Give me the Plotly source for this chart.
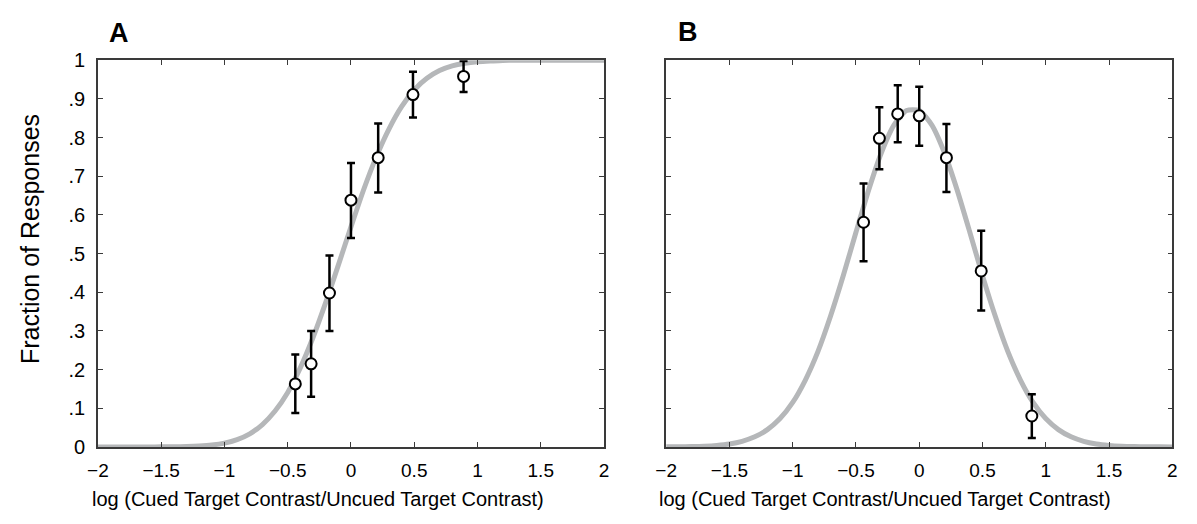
import plotly.graph_objects as go

# ---- data ----
curve_x = [round(-2 + 0.1 * i, 1) for i in range(41)]

curve_a = [0.0, 0.0, 0.0, 0.0, 0.0001, 0.0002, 0.0004, 0.001, 0.0024, 0.005,
           0.010, 0.019, 0.034, 0.058, 0.093, 0.141, 0.205, 0.283, 0.373, 0.470,
           0.569, 0.665, 0.750, 0.822, 0.880, 0.923, 0.953, 0.973, 0.985, 0.992,
           0.996, 0.998, 0.999, 1.0, 1.0, 1.0, 1.0, 1.0, 1.0, 1.0, 1.0]

curve_b = [0.0002, 0.0004, 0.0009, 0.0019, 0.0040, 0.0078, 0.0146, 0.0261, 0.0448, 0.0734,
           0.115, 0.173, 0.247, 0.339, 0.443, 0.555, 0.664, 0.760, 0.832, 0.870,
           0.870, 0.832, 0.760, 0.664, 0.555, 0.443, 0.339, 0.247, 0.173, 0.115,
           0.0734, 0.0448, 0.0261, 0.0146, 0.0078, 0.0040, 0.0019, 0.0009, 0.0004, 0.0002, 0.0001]

pts_x = [-0.44, -0.315, -0.17, 0.0, 0.215, 0.49, 0.89]

a_y = [0.163, 0.215, 0.398, 0.638, 0.748, 0.911, 0.958]
a_hi = [0.239, 0.300, 0.495, 0.734, 0.836, 0.970, 0.998]
a_lo = [0.088, 0.130, 0.300, 0.540, 0.658, 0.852, 0.918]

b_y = [0.581, 0.798, 0.861, 0.856, 0.748, 0.455, 0.080]
b_hi = [0.681, 0.878, 0.935, 0.931, 0.835, 0.559, 0.136]
b_lo = [0.480, 0.718, 0.788, 0.779, 0.659, 0.353, 0.023]

y_tickvals = [0, 0.1, 0.2, 0.3, 0.4, 0.5, 0.6, 0.7, 0.8, 0.9, 1]
y_ticktext = ["0", ".1", ".2", ".3", ".4", ".5", ".6", ".7", ".8", ".9", "1"]
x_tickvals = [-2, -1.5, -1, -0.5, 0, 0.5, 1, 1.5, 2]
x_ticktext = ["\u22122", "\u22121.5", "\u22121", "\u22120.5", "0", "0.5", "1", "1.5", "2"]

x_title = "log (Cued Target Contrast/Uncued Target Contrast)"
y_title = "Fraction of Responses"
panel_labels = ["A", "B"]

FONT = "Liberation Sans, Arial, Helvetica, sans-serif"
CURVE_COLOR = "#b5b7b9"
AXIS_COLOR = "#3a3a3a"

fig = go.Figure()

for i, (cy, py, hi, lo) in enumerate([(curve_a, a_y, a_hi, a_lo), (curve_b, b_y, b_hi, b_lo)]):
    xa = "x" if i == 0 else "x2"
    ya = "y" if i == 0 else "y2"
    fig.add_trace(go.Scatter(
        x=curve_x, y=cy, mode="lines", xaxis=xa, yaxis=ya,
        line=dict(color=CURVE_COLOR, width=5, shape="spline", smoothing=0.6),
        hoverinfo="skip", showlegend=False))
    fig.add_trace(go.Scatter(
        x=pts_x, y=py, mode="markers", xaxis=xa, yaxis=ya,
        marker=dict(symbol="circle", size=11, color="white",
                    line=dict(color="black", width=2)),
        error_y=dict(type="data", symmetric=False,
                     array=[h - v for h, v in zip(hi, py)],
                     arrayminus=[v - l for v, l in zip(py, lo)],
                     color="black", thickness=2.5, width=4),
        cliponaxis=False, showlegend=False))

# page body has an 8px margin; the figure is sized so it fits the 1197x524 window
OFF = 8
W, H = 1197 - OFF, 524 - OFF


def px_x(v):
    return (v - OFF) / W


def px_y(v):
    return (H - (v - OFF)) / H


ybot = px_y(455)
ytop = px_y(51)
dom_a = [px_x(88), px_x(601)]
dom_b = [px_x(664), px_x(1177)]

axis_common = dict(
    showline=True, mirror="ticks", linecolor=AXIS_COLOR, linewidth=1.5,
    ticks="inside", ticklen=5, tickwidth=1, tickcolor=AXIS_COLOR,
    showgrid=False, zeroline=False,
)

xfont = dict(family=FONT, size=19, color="black")
yfont = dict(family=FONT, size=20, color="black")

fig.update_layout(
    width=W, height=H,
    margin=dict(l=0, r=0, t=0, b=0),
    paper_bgcolor="white", plot_bgcolor="white",
    font=dict(family=FONT, color="black"),
    xaxis=dict(domain=dom_a, range=[-2, 2], tickvals=x_tickvals, ticktext=x_ticktext,
               anchor="y", tickfont=xfont, ticklabelstandoff=6, **axis_common),
    yaxis=dict(domain=[ybot, ytop], range=[0, 1], tickvals=y_tickvals, ticktext=y_ticktext,
               anchor="x", tickfont=yfont, ticklabelstandoff=7, **axis_common),
    xaxis2=dict(domain=dom_b, range=[-2, 2], tickvals=x_tickvals, ticktext=x_ticktext,
                anchor="y2", tickfont=xfont, ticklabelstandoff=6, **axis_common),
    yaxis2=dict(domain=[ybot, ytop], range=[0, 1], tickvals=y_tickvals, showticklabels=False,
                anchor="x2", **axis_common),
)

annotations = [
    dict(text=x_title, x=px_x(311), y=px_y(509), xref="paper", yref="paper",
         showarrow=False, font=dict(family=FONT, size=20, color="black"),
         xanchor="center", yanchor="middle"),
    dict(text=x_title, x=px_x(886), y=px_y(509), xref="paper", yref="paper",
         showarrow=False, font=dict(family=FONT, size=20, color="black"),
         xanchor="center", yanchor="middle"),
    dict(text=y_title, x=px_x(19), y=px_y(238), xref="paper", yref="paper",
         showarrow=False, textangle=-90, font=dict(family=FONT, size=25, color="black"),
         xanchor="center", yanchor="middle"),
    dict(text="<b>" + panel_labels[0] + "</b>", x=px_x(109), y=px_y(23), xref="paper", yref="paper",
         showarrow=False, font=dict(family=FONT, size=27, color="black"),
         xanchor="center", yanchor="middle"),
    dict(text="<b>" + panel_labels[1] + "</b>", x=px_x(686), y=px_y(22), xref="paper", yref="paper",
         showarrow=False, font=dict(family=FONT, size=27, color="black"),
         xanchor="center", yanchor="middle"),
]
fig.update_layout(annotations=annotations)

fig.write_html("out.html", config={"displayModeBar": False})
